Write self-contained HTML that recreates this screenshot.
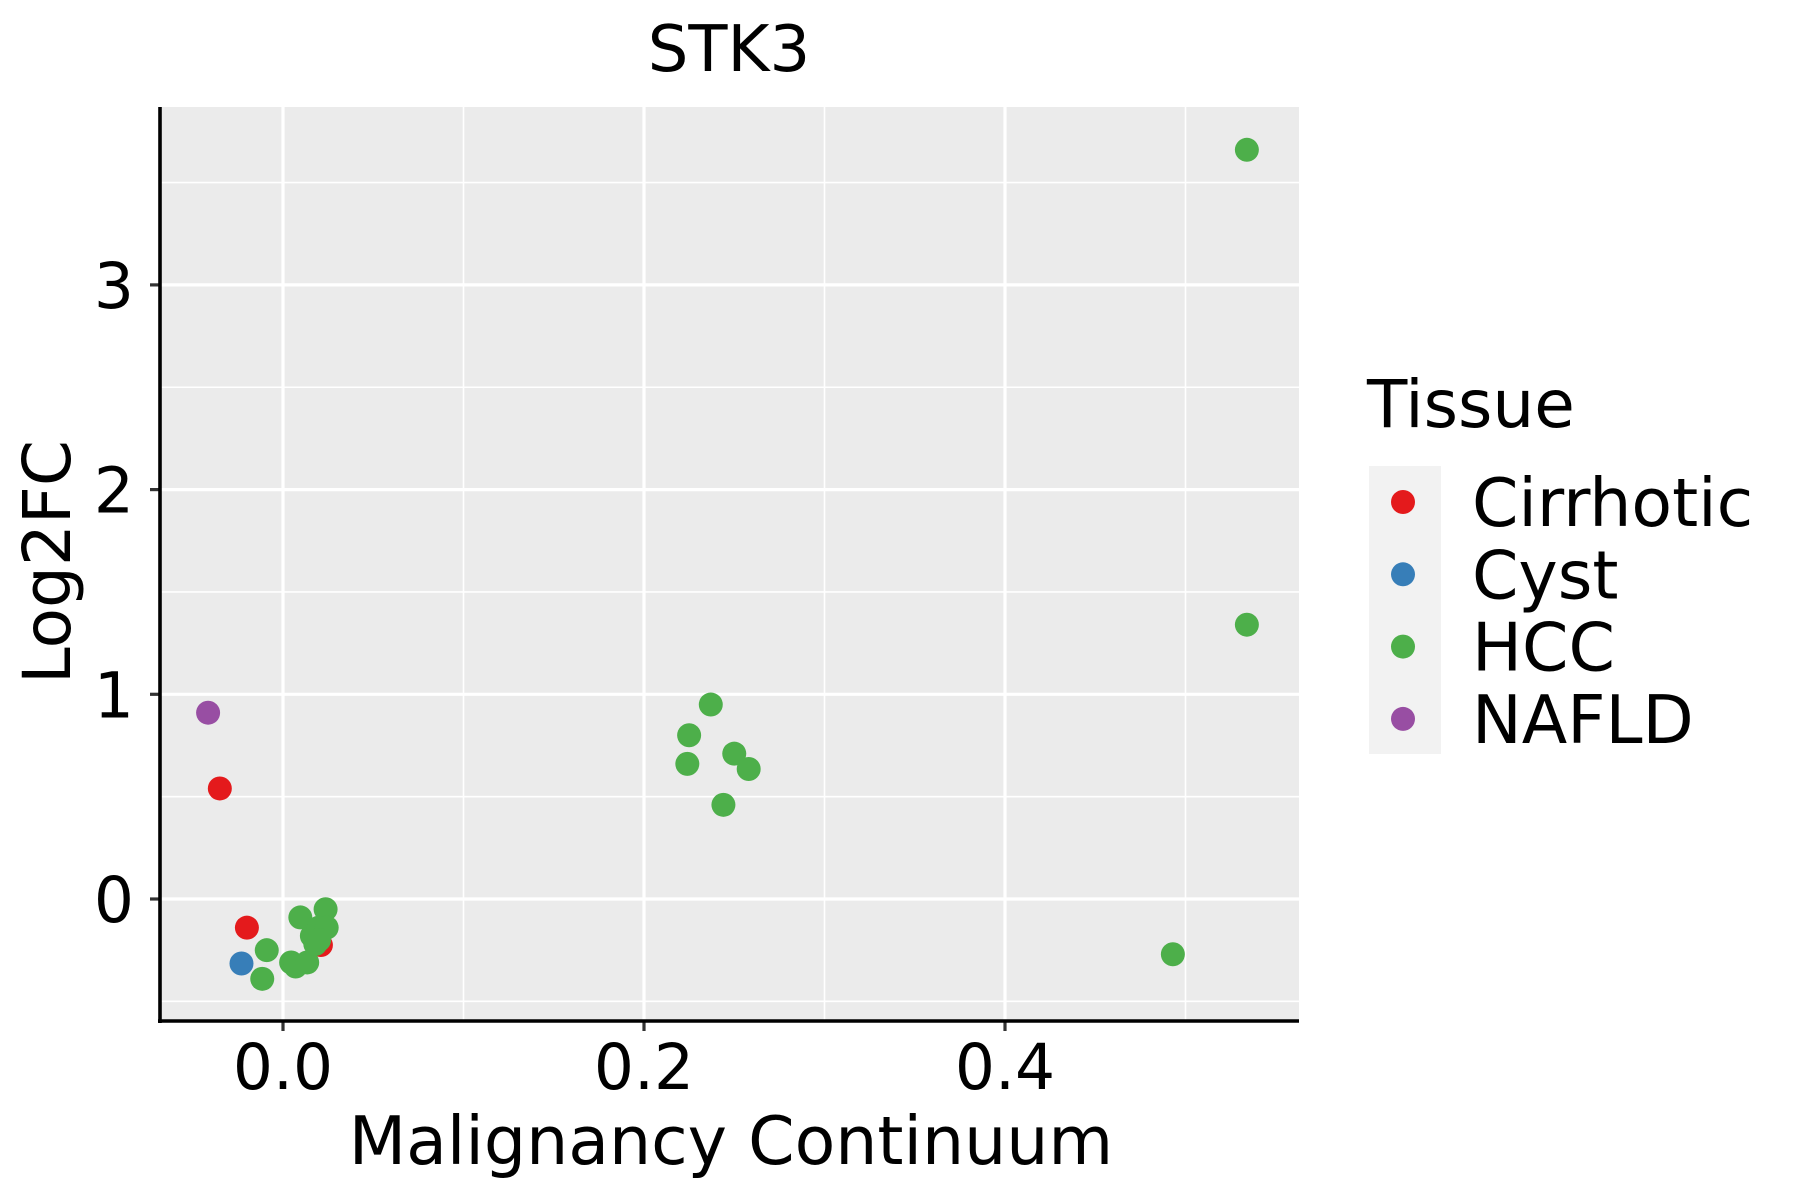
<!DOCTYPE html>
<html><head><meta charset="utf-8"><style>
body{margin:0;background:#fff}
svg{display:block;font-family:"DejaVu Sans","Liberation Sans",sans-serif}
</style></head><body>
<svg id="chart" width="1800" height="1200" viewBox="0 0 1800 1200">
<rect x="160" y="107" width="1139" height="914" fill="#ebebeb"/>
<g id="grid"></g>
<g id="pts"></g>
<g id="axes"></g>
<text x="729" y="71" font-size="64" text-anchor="middle">STK3</text>
<text x="731" y="1164" font-size="66.5" text-anchor="middle">Malignancy Continuum</text>
<text transform="translate(70,562) rotate(-90)" font-size="66" text-anchor="middle">Log2FC</text>
<g id="legend"></g>
</svg>
<script>
const xTicks=[0.0,0.2,0.4];
const xTickLabels=["0.0","0.2","0.4"];
const yTicks=[0,1,2,3];
const yTickLabels=["0","1","2","3"];
const categories=["Cirrhotic","Cyst","HCC","NAFLD"];
const colors=["#e41a1c","#377eb8","#4daf4a","#984ea3"];
const cirrhoticX=[-0.035,-0.020,0.021];
const cirrhoticY=[0.54,-0.14,-0.225];
const cystX=[-0.023];
const cystY=[-0.315];
const hccX=[-0.009,-0.0115,0.0096,0.0236,0.0045,0.007,0.0134,0.016,0.0198,0.0242,0.0179,0.020,0.237,0.225,0.224,0.250,0.258,0.244,0.493,0.534,0.534];
const hccY=[-0.25,-0.39,-0.09,-0.05,-0.31,-0.33,-0.31,-0.18,-0.14,-0.14,-0.22,-0.20,0.95,0.80,0.66,0.71,0.635,0.46,-0.27,1.34,3.66];
const nafldX=[-0.0415];
const nafldY=[0.91];
const seriesX=[cirrhoticX,cystX,hccX,nafldX];
const seriesY=[cirrhoticY,cystY,hccY,nafldY];

const NS="http://www.w3.org/2000/svg";
const L=160,R=1299,T=107,B=1021;
const sx=v=>283+v*1805;
const sy=v=>899-v*204.7;
function mk(tag,attrs,parent){const e=document.createElementNS(NS,tag);for(const k in attrs)e.setAttribute(k,attrs[k]);parent.appendChild(e);return e;}
const grid=document.getElementById('grid'),axes=document.getElementById('axes'),pts=document.getElementById('pts'),leg=document.getElementById('legend');
const xMinor=[-0.1,0.1,0.3,0.5],yMinor=[-0.5,0.5,1.5,2.5,3.5];
xMinor.forEach(v=>{const x=sx(v);if(x>L&&x<R){const l=mk('line',{x1:x,x2:x,y1:T,y2:B,stroke:'#fff','stroke-width':1.6},grid);

}});
yMinor.forEach(v=>{const y=sy(v);if(y>T&&y<B){const l=mk('line',{x1:L,x2:R,y1:y,y2:y,stroke:'#fff','stroke-width':1.6},grid);

}});
xTicks.forEach((v,i)=>{const x=sx(v);
const g=mk('line',{x1:x,x2:x,y1:T,y2:B,stroke:'#fff','stroke-width':3.2},grid);


const t=mk('line',{x1:x,x2:x,y1:B,y2:B+10,stroke:'#333','stroke-width':3.2},axes);


const tx=mk('text',{x:x,y:1089,'font-size':63,'text-anchor':'middle'},axes);tx.textContent=xTickLabels[i];

});
yTicks.forEach((v,i)=>{const y=sy(v);
const g=mk('line',{x1:L,x2:R,y1:y,y2:y,stroke:'#fff','stroke-width':3.2},grid);


const t=mk('line',{x1:L-10,x2:L,y1:y,y2:y,stroke:'#333','stroke-width':3.2},axes);


const tx=mk('text',{x:134,y:y+23,'font-size':63,'text-anchor':'end'},axes);tx.textContent=yTickLabels[i];

});
const ax=mk('line',{x1:L,x2:L,y1:T,y2:B+2,stroke:'#000','stroke-width':3.6},axes);


const ay=mk('line',{x1:L-2,x2:R,y1:B,y2:B,stroke:'#000','stroke-width':3.6},axes);


seriesX.forEach((xs,s)=>{xs.forEach((xv,i)=>{
const c=mk('circle',{cx:sx(xv),cy:sy(seriesY[s][i]),r:12,fill:colors[s]},pts);

});});
const lt=mk('text',{x:1367,y:427,'font-size':66},leg);lt.textContent='Tissue';


const lb=mk('rect',{x:1369,y:466,width:72,height:288,fill:'#f2f2f2'},leg);


categories.forEach((c,i)=>{const y=502+i*72.3;
const k=mk('circle',{cx:1403,cy:y,r:12,fill:colors[i]},leg);


const t=mk('text',{x:1472,y:y+24,'font-size':66.5},leg);t.textContent=c;

});
</script>
</body></html>
